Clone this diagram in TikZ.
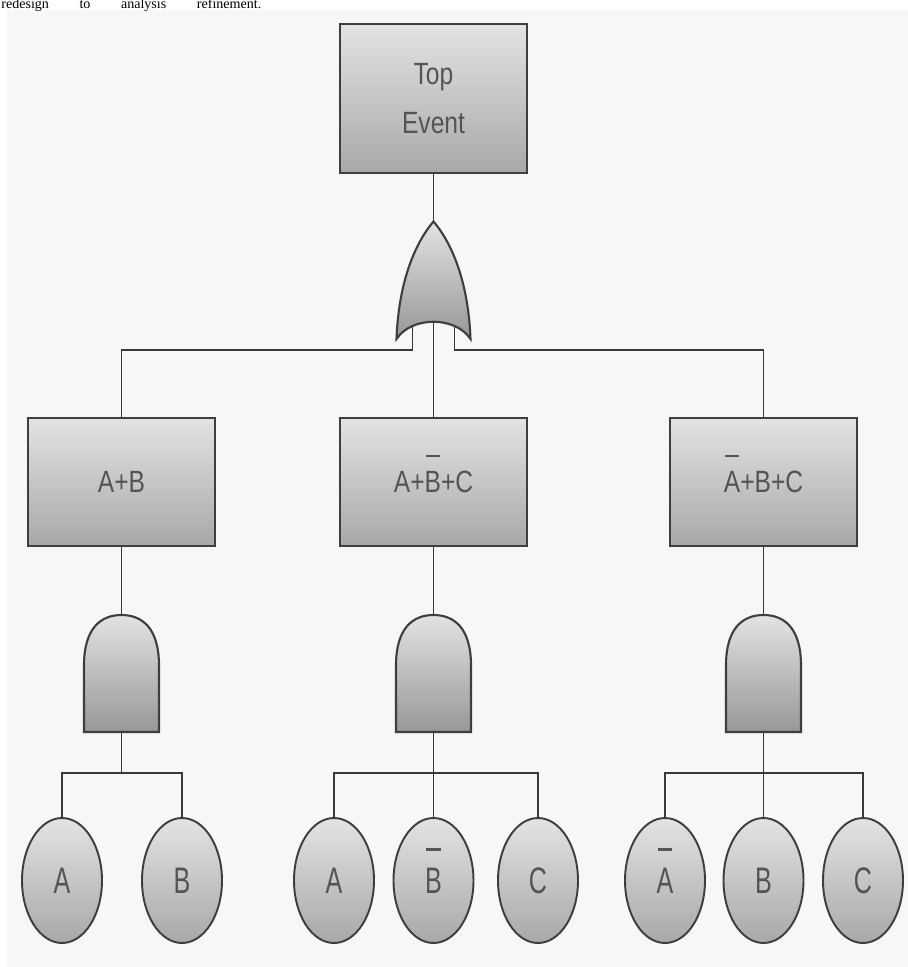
\documentclass[tikz,border=0pt]{standalone}
\usepackage{fontspec}
\setmainfont{Liberation Serif}
\newfontfamily\boxfont[FakeStretch=0.8]{Liberation Sans}
\newfontfamily\leaffont[FakeStretch=0.68]{Liberation Sans}
\usetikzlibrary{shapes.geometric, backgrounds, calc}

\definecolor{panel}{HTML}{F7F7F7}
\definecolor{edge}{HTML}{3E3E3E}
\definecolor{wire}{HTML}{383838}
\definecolor{txt}{HTML}{545454}
\definecolor{boxtop}{HTML}{E3E3E3}
\definecolor{boxbot}{HTML}{A8A8A8}

% letter with a bar set well above it
\newcommand{\nbar}[1]{\setbox0\hbox{#1}%
  \rlap{\smash{\hbox to \wd0{\hss\rule[1.15em]{0.85\wd0}{0.07em}\hss}}}\box0}

\tikzset{
  % --- events ---------------------------------------------
  evt/.style={draw=edge, line width=1.3pt, top color=boxtop,
    bottom color=boxbot, minimum width=3.74cm, minimum height=2.56cm,
    align=center, text=txt, inner sep=0pt,
    font=\boxfont\fontsize{17.5}{28}\selectfont},
  leaf/.style={draw=edge, ellipse, line width=1.1pt, top color=boxtop,
    bottom color=boxbot, minimum width=1.6cm, minimum height=2.5cm,
    inner sep=0pt, text=txt, font=\leaffont\fontsize{21}{24}\selectfont},
  % --- gates ----------------------------------------------
  gatebox/.style={rectangle, minimum width=1.5cm, minimum height=2.34cm,
    inner sep=0pt},
  gateshade/.style={draw=edge, line width=1.2pt, top color=boxtop,
    bottom color=boxbot!90!black},
  % --- wiring ---------------------------------------------
  conn/.style={draw=wire, line width=1.1pt},
  note/.style={inner sep=0pt, font=\fontsize{8}{9}\selectfont}
}

\begin{document}
\begin{tikzpicture}[x=0.02cm, y=-0.02cm]

  \useasboundingbox (0,0) rectangle (908,967);

  % caption line above the figure
  \node[note, anchor=base west] (cap) at (1,8.5)
    {\makebox[5.2cm][s]{redesign to analysis refinement.}};

  % --- top event and OR gate ---
  \node[evt, minimum height=2.98cm] (top) at (433.5,98.5) {Top\\Event};
  \node[gatebox] (g0) at (433.5,280) {};
  \shade[gateshade, shift={(g0.center)}]
    (-37,59) .. controls (-35,5) and (-20,-35) .. (0,-58.5)
    .. controls (20,-35) and (35,5) .. (37,59)
    .. controls (22,36) and (-22,36) .. cycle;

  % --- intermediate events ---
  \node[evt] (sAB)   at (121.5,482) {A+B};
  \node[evt] (sAnBC) at (433.5,482) {A+\nbar{B}+C};
  \node[evt] (snABC) at (763.5,482) {\nbar{A}+B+C};

  % --- AND gates ---
  \foreach \g/\gx in {g1/121.5, g2/433.5, g3/763.5}{
    \node[gatebox] (\g) at (\gx,673.5) {};
    \shade[gateshade, shift={(\g.center)}]
      (-37.5,58.5) -- (-37.5,-8)
      .. controls (-37.5,-45) and (-21,-58.5) .. (0,-58.5)
      .. controls (21,-58.5) and (37.5,-45) .. (37.5,-8)
      -- (37.5,58.5) -- cycle;
  }

  % --- basic events ---
  \node[leaf] (l1a) at (62,880.5)    {A};
  \node[leaf] (l1b) at (182,880.5)   {B};
  \node[leaf] (l2a) at (334,880.5)   {A};
  \node[leaf] (l2b) at (433.5,880.5) {\nbar{B}};
  \node[leaf] (l2c) at (538,880.5)   {C};
  \node[leaf] (l3a) at (665,880.5)   {\nbar{A}};
  \node[leaf] (l3b) at (763.5,880.5) {B};
  \node[leaf] (l3c) at (863,880.5)   {C};

  \coordinate (split) at (433.5,350);
  \coordinate (in1) at ([xshift=-0.42cm]g0.center);
  \coordinate (in3) at ([xshift=0.42cm]g0.center);
  \coordinate (bar1) at (121.5,773);
  \coordinate (bar2) at (433.5,773);
  \coordinate (bar3) at (763.5,773);

  \begin{scope}[on background layer]
    \fill[panel] (7,10) rectangle (908,967);

    % --- OR gate inputs ---
    \draw[conn] (top.south) -- (g0.north);
    \draw[conn] (in1) -- (in1 |- split) -| (sAB.north);
    \draw[conn] (g0.center) -- (sAnBC.north);
    \draw[conn] (in3) -- (in3 |- split) -| (snABC.north);

    % --- AND gates and their inputs ---
    \foreach \s/\g in {sAB/g1, sAnBC/g2, snABC/g3}
      \draw[conn] (\s.south) -- (\g.north);
    \draw[conn] (g1.south) -- (bar1);
    \draw[conn] (l1a.north) |- (bar1) -| (l1b.north);
    \draw[conn] (g2.south) -- (l2b.north);
    \draw[conn] (l2a.north) |- (bar2) -| (l2c.north);
    \draw[conn] (g3.south) -- (l3b.north);
    \draw[conn] (l3a.north) |- (bar3) -| (l3c.north);
  \end{scope}

\end{tikzpicture}
\end{document}
